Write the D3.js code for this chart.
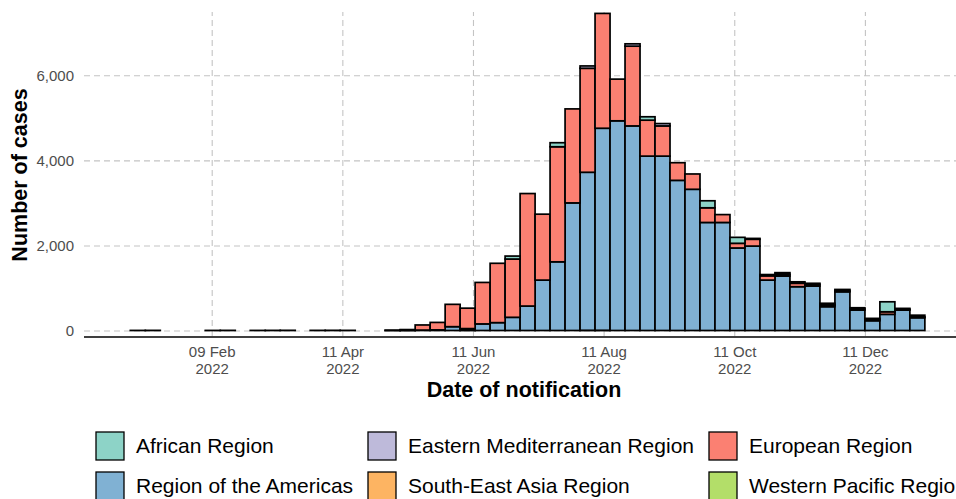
<!DOCTYPE html>
<html>
<head>
<meta charset="utf-8">
<script src="https://cdn.jsdelivr.net/npm/d3@7"></script>
<style>
  body { margin: 0; background: #fff; }
  svg { font-family: "Liberation Sans", Arial, sans-serif; }
  .grid line { stroke: #c4c4c4; stroke-width: 1.1; stroke-dasharray: 6,4; }
  .grid path { display: none; }
  .axis path, .axis line { display: none; }
  .axis text { fill: #4d4d4d; font-size: 15px; }
</style>
</head>
<body>
<div id="chart"></div>
<script>
// week start (Sunday) of each notification week that has cases
const weeks = [
  '2022-01-02', '2022-01-09', '2022-02-06', '2022-02-13', '2022-02-27', '2022-03-06',
  '2022-03-13', '2022-03-27', '2022-04-03', '2022-04-10', '2022-05-01', '2022-05-08',
  '2022-05-15', '2022-05-22', '2022-05-29', '2022-06-05', '2022-06-12', '2022-06-19',
  '2022-06-26', '2022-07-03', '2022-07-10', '2022-07-17', '2022-07-24', '2022-07-31',
  '2022-08-07', '2022-08-14', '2022-08-21', '2022-08-28', '2022-09-04', '2022-09-11',
  '2022-09-18', '2022-09-25', '2022-10-02', '2022-10-09', '2022-10-16', '2022-10-23',
  '2022-10-30', '2022-11-06', '2022-11-13', '2022-11-20', '2022-11-27', '2022-12-04',
  '2022-12-11', '2022-12-18', '2022-12-25', '2023-01-01',
];

// weekly counts per WHO region
const african = [
  2, 3, 2, 3, 2, 3, 4, 3, 4, 3, 5, 5,
  0, 0, 0, 0, 0, 0, 70, 0, 0, 95, 0, 0,
  0, 0, 0, 80, 0, 0, 0, 165, 0, 140, 0, 0,
  0, 0, 0, 0, 0, 0, 0, 235, 0, 0,
];
const easternMed = [
  0, 0, 0, 0, 0, 0, 0, 0, 0, 0, 0, 0,
  0, 0, 0, 0, 0, 0, 0, 0, 0, 0, 0, 55,
  0, 0, 55, 0, 55, 0, 0, 0, 0, 0, 20, 30,
  40, 35, 25, 40, 25, 25, 25, 0, 20, 40,
];
const european = [
  0, 0, 0, 0, 0, 0, 0, 0, 0, 0, 2, 15,
  120, 175, 525, 480, 975, 1395, 1370, 2645, 1550, 2705, 2210, 2445,
  2700, 980, 1875, 845, 710, 415, 360, 345, 185, 110, 160, 100,
  40, 80, 40, 40, 30, 30, 30, 60, 20, 20,
];
const americas = [
  0, 0, 0, 0, 0, 0, 0, 0, 0, 0, 0, 1,
  10, 15, 90, 40, 155, 185, 310, 575, 1185, 1615, 3000, 3715,
  4750, 4930, 4810, 4100, 4100, 3530, 3320, 2540, 2540, 1940, 1985, 1185,
  1280, 1030, 1045, 560, 910, 480, 230, 380, 480, 300,
];
const southEastAsia = [
  0, 0, 0, 0, 0, 0, 0, 0, 0, 0, 0, 0,
  0, 0, 0, 0, 0, 0, 0, 0, 0, 0, 0, 0,
  5, 0, 0, 0, 0, 0, 0, 0, 0, 0, 0, 0,
  0, 0, 0, 0, 0, 0, 0, 0, 0, 0,
];
const westernPacific = [
  0, 0, 0, 0, 0, 0, 0, 0, 0, 0, 0, 0,
  0, 0, 0, 5, 0, 0, 0, 0, 0, 0, 0, 5,
  0, 0, 0, 0, 0, 0, 0, 0, 0, 0, 0, 0,
  0, 0, 0, 0, 0, 0, 0, 0, 0, 0,
];

const regionNames = [
  'African Region', 'Eastern Mediterranean Region', 'European Region',
  'Region of the Americas', 'South-East Asia Region', 'Western Pacific Region',
];
const regionColors = ['#8DD3C7', '#BEBADA', '#FB8072', '#80B1D3', '#FDB462', '#B3DE69'];
const yTicks = [0, 2000, 4000, 6000];
const xTicks = ['2022-02-09', '2022-04-11', '2022-06-11', '2022-08-11', '2022-10-11', '2022-12-11'];

const parseDay = d3.utcParse('%Y-%m-%d');

// build the table for d3.stack
const series = [african, easternMed, european, americas, southEastAsia, westernPacific];
const rows = weeks.map((w, i) => {
  const row = { week: parseDay(w) };
  regionNames.forEach((name, j) => { row[name] = series[j][i]; });
  return row;
});

const width = 956;
const height = 499;

const svg = d3.select('#chart')
  .append('svg')
  .attr('width', width)
  .attr('height', height);

// scales
const x = d3.scaleUtc()
  .domain([parseDay('2022-02-09'), parseDay('2022-12-11')])
  .range([211.7, 864.9]);
const y = d3.scaleLinear()
  .domain([0, 6000])
  .range([330.5, 75.3]);

const panel = { left: 84, right: 956, top: 12, bottom: 336 };

// horizontal gridlines
svg.append('g')
  .attr('class', 'grid')
  .attr('transform', `translate(${panel.left}, 0)`)
  .call(d3.axisLeft(y).tickValues(yTicks).tickSize(-(panel.right - panel.left)).tickFormat(''));

// vertical gridlines
svg.append('g')
  .attr('class', 'grid')
  .attr('transform', `translate(0, ${panel.bottom})`)
  .call(d3.axisBottom(x).tickValues(xTicks.map(parseDay)).tickSize(-(panel.bottom - panel.top)).tickFormat(''));

// stacked bars, first level drawn on top like ggplot
const stack = d3.stack().keys(regionNames.slice().reverse());
const layers = stack(rows);
const colorOf = d3.scaleOrdinal().domain(regionNames).range(regionColors);

svg.append('g')
  .selectAll('g')
  .data(layers)
  .join('g')
  .attr('fill', d => colorOf(d.key))
  .selectAll('rect')
  .data(d => d.filter(p => p[1] - p[0] > 0))
  .join('rect')
  .attr('x', d => x(d.data.week))
  .attr('width', d => x(d3.utcDay.offset(d.data.week, 7)) - x(d.data.week))
  .attr('y', d => y(d[1]))
  .attr('height', d => y(d[0]) - y(d[1]))
  .attr('stroke', '#000')
  .attr('stroke-width', 1.7);

// x axis line
svg.append('line')
  .attr('x1', panel.left)
  .attr('x2', panel.right)
  .attr('y1', 337)
  .attr('y2', 337)
  .attr('stroke', '#000')
  .attr('stroke-width', 1.5);

// y tick labels
svg.append('g')
  .attr('class', 'axis')
  .attr('transform', 'translate(81, 0)')
  .call(d3.axisLeft(y).tickValues(yTicks).tickSize(0).tickPadding(7).tickFormat(d3.format(',')));

// x tick labels on two lines
const fmtDay = d3.utcFormat('%d %b');
const fmtYear = d3.utcFormat('%Y');
const xAxis = svg.append('g')
  .attr('class', 'axis')
  .attr('transform', 'translate(0, 341)')
  .call(d3.axisBottom(x).tickValues(xTicks.map(parseDay)).tickSize(0).tickPadding(0));

xAxis.selectAll('.tick text')
  .attr('dy', null)
  .attr('y', 0)
  .each(function (d) {
    const t = d3.select(this).text('');
    t.append('tspan').attr('x', 0).attr('y', 16).text(fmtDay(d));
    t.append('tspan').attr('x', 0).attr('y', 33).text(fmtYear(d));
  });

// axis titles
svg.append('text')
  .attr('x', 524)
  .attr('y', 397)
  .attr('text-anchor', 'middle')
  .attr('font-weight', 'bold')
  .attr('font-size', 21.5)
  .attr('fill', '#000')
  .text('Date of notification');

svg.append('text')
  .attr('transform', 'translate(27, 175) rotate(-90)')
  .attr('text-anchor', 'middle')
  .attr('font-weight', 'bold')
  .attr('font-size', 21.5)
  .attr('fill', '#000')
  .text('Number of cases');

// legend, three columns by two rows
const legendCols = [96, 368, 709];
const legendRows = [432, 472];
const legend = svg.append('g')
  .selectAll('g')
  .data(regionNames)
  .join('g')
  .attr('transform', (d, i) => `translate(${legendCols[i % 3]}, ${legendRows[Math.floor(i / 3)]})`);

legend.append('rect')
  .attr('width', 28)
  .attr('height', 28)
  .attr('fill', d => colorOf(d))
  .attr('stroke', '#000')
  .attr('stroke-width', 1.3);

legend.append('text')
  .attr('x', 40)
  .attr('y', 14)
  .attr('dy', '0.35em')
  .attr('font-size', 21)
  .attr('fill', '#000')
  .text(d => d);
</script>
</body>
</html>
